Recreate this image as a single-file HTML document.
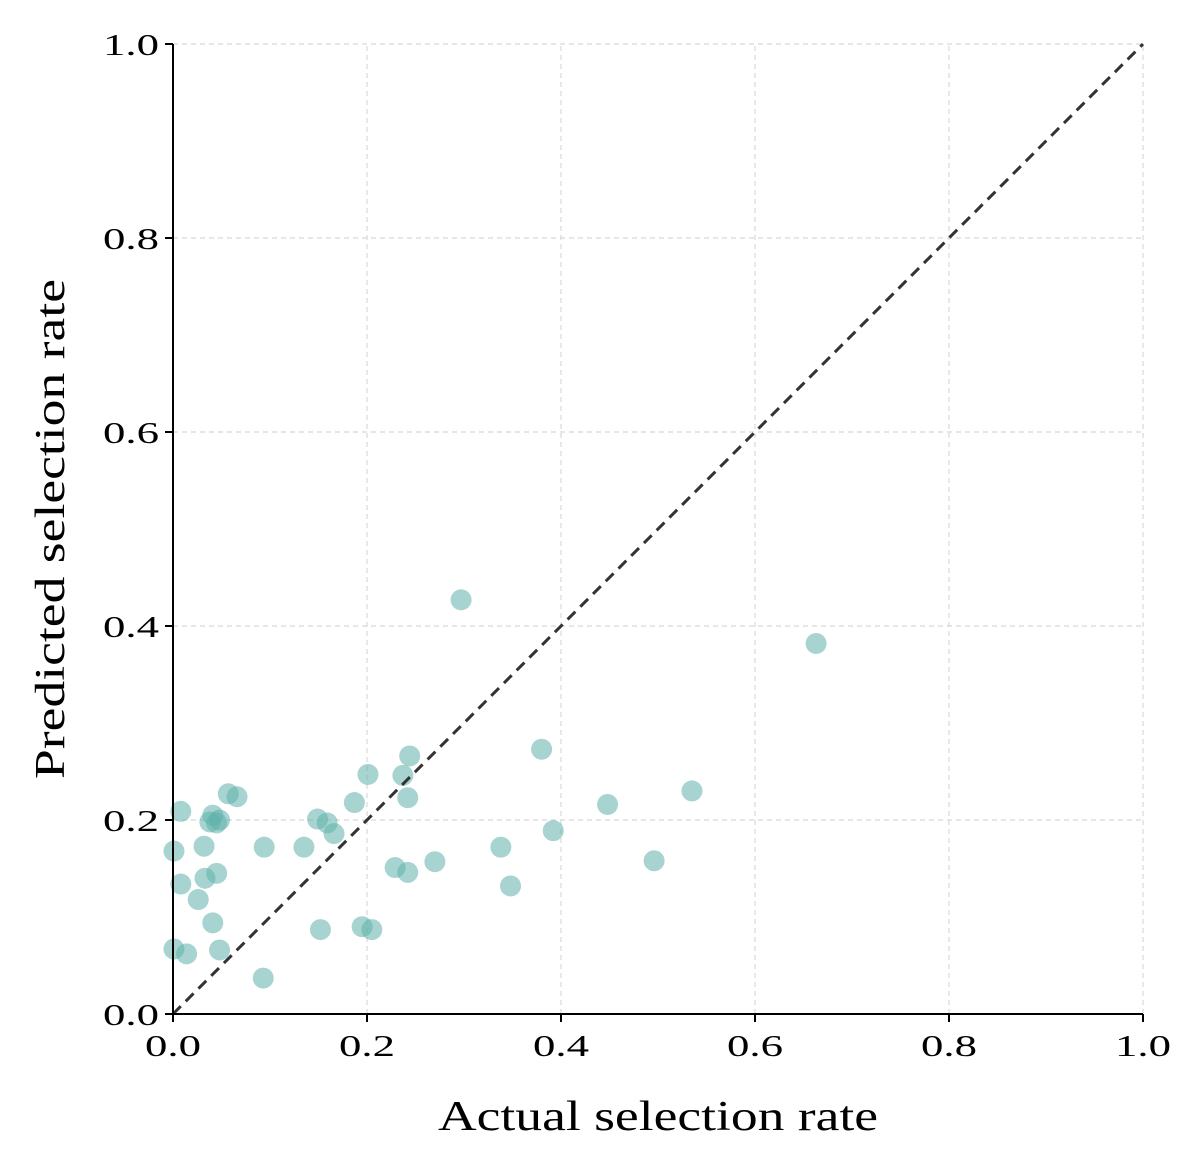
<!DOCTYPE html>
<html><head><meta charset="utf-8"><style>
body{margin:0;background:#fff;}
svg text{font-family:"Liberation Serif",serif;fill:#000;}
</style></head><body>
<svg id="chart" width="1199" height="1171" xmlns="http://www.w3.org/2000/svg">
<g id="grid"></g>
<g id="points"></g>
<line id="diag" stroke="#333" stroke-width="3" stroke-dasharray="11,7"/>
<g id="axes"></g>
<text x="658" y="1130" font-size="42" text-anchor="middle" textLength="440" lengthAdjust="spacingAndGlyphs">Actual selection rate</text>
<text transform="translate(64,529) rotate(-90)" font-size="42" text-anchor="middle" textLength="500" lengthAdjust="spacingAndGlyphs">Predicted selection rate</text>
</svg>
<script>
const actual=[0.008,0.057,0.066,0.041,0.048,0.038,0.045,0.001,0.032,0.094,0.135,0.149,0.159,0.166,0.187,0.201,0.237,0.244,0.242,0.008,0.033,0.045,0.026,0.041,0.001,0.014,0.048,0.093,0.152,0.195,0.205,0.229,0.242,0.270,0.297,0.663,0.380,0.392,0.448,0.535,0.496,0.338,0.348];
const predicted=[0.209,0.227,0.224,0.205,0.200,0.198,0.197,0.168,0.173,0.172,0.172,0.201,0.197,0.186,0.218,0.247,0.246,0.266,0.223,0.134,0.140,0.145,0.118,0.094,0.067,0.062,0.066,0.037,0.087,0.090,0.087,0.151,0.146,0.157,0.427,0.382,0.273,0.189,0.216,0.230,0.158,0.172,0.132];
const ticks=[0,0.2,0.4,0.6,0.8,1.0];
const tickLabels=["0.0","0.2","0.4","0.6","0.8","1.0"];
const NS="http://www.w3.org/2000/svg";
const X0=173,X1=1143,Y0=1014,Y1=44;
const sx=v=>X0+(X1-X0)*v, sy=v=>Y0-(Y0-Y1)*v;
function mk(tag,attrs,parent){const e=document.createElementNS(NS,tag);for(const k in attrs)e.setAttribute(k,attrs[k]);parent.appendChild(e);return e;}
const grid=document.getElementById('grid'),axes=document.getElementById('axes'),pts=document.getElementById('points');
ticks.forEach((t,i)=>{
  if(i>0){
    const gv=mk('line',{x1:sx(t),x2:sx(t),y1:Y0,y2:Y1,stroke:'#d8d8d8','stroke-width':1.2,'stroke-dasharray':'5,4'},grid);
    
    
    const gh=mk('line',{x1:X0,x2:X1,y1:sy(t),y2:sy(t),stroke:'#d8d8d8','stroke-width':1.2,'stroke-dasharray':'5,4'},grid);
    
    
  }
  const tx=mk('line',{x1:sx(t),x2:sx(t),y1:Y0,y2:Y0+8,stroke:'#000','stroke-width':2},axes);
  
  
  const lx=mk('text',{x:sx(t),y:Y0+42,'font-size':31,'text-anchor':'middle',textLength:56,lengthAdjust:'spacingAndGlyphs'},axes);
  lx.textContent=tickLabels[i];
  
  
  const ty=mk('line',{x1:X0-8,x2:X0,y1:sy(t),y2:sy(t),stroke:'#000','stroke-width':2},axes);
  
  
  const ly=mk('text',{x:X0-14,y:sy(t)+11,'font-size':31,'text-anchor':'end',textLength:56,lengthAdjust:'spacingAndGlyphs'},axes);
  ly.textContent=tickLabels[i];
  
  
});
const ax=mk('line',{x1:X0,x2:X1,y1:Y0,y2:Y0,stroke:'#000','stroke-width':2},axes);


const ay=mk('line',{x1:X0,x2:X0,y1:Y0,y2:Y1,stroke:'#000','stroke-width':2},axes);


const d=document.getElementById('diag');
d.setAttribute('x1',sx(0));d.setAttribute('y1',sy(0));d.setAttribute('x2',sx(1));d.setAttribute('y2',sy(1));
actual.forEach((a,i)=>{
  const c=mk('circle',{cx:sx(a),cy:sy(predicted[i]),r:10.5,fill:'#5fb0a9','fill-opacity':0.55},pts);
  
  
});
</script>
</body></html>
